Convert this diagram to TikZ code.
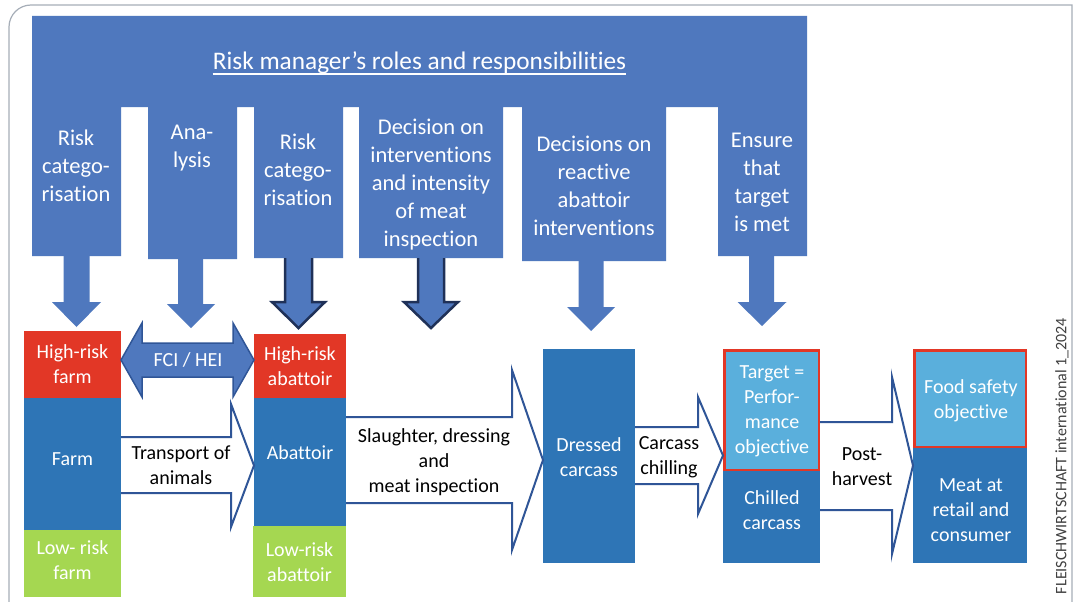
\documentclass[tikz,border=0pt]{standalone}
\usepackage{fontspec}
\setmainfont{Carlito}[RawFeature={-liga;-clig;-calt;-dlig;-rlig}]
\definecolor{bannerblue}{HTML}{4F78BE}
\definecolor{boxblue}{HTML}{2E75B6}
\definecolor{riskred}{HTML}{E23726}
\definecolor{riskgreen}{HTML}{A5D751}
\definecolor{lightblue}{HTML}{5AAFDC}
\definecolor{arrowline}{HTML}{2F5597}
\definecolor{darkline}{HTML}{1F3158}
\definecolor{framegray}{HTML}{A6AEB8}
\definecolor{textgray}{HTML}{404040}
\begin{document}
\begin{tikzpicture}[x=1pt,y=-1pt,
  cell/.style={inner sep=0pt, outer sep=0pt, anchor=north west, draw=none},
  coltext/.style={text=white, align=center, inner sep=0pt, font=\fontsize{22.5}{28}\selectfont},
  boxtext/.style={text=white, align=center, inner sep=0pt, font=\fontsize{20}{25}\selectfont},
  arrtext/.style={text=black, align=center, inner sep=0pt, font=\fontsize{20}{25}\selectfont},
  whitearrow/.style={fill=white, draw=arrowline, line width=2pt, line join=miter},
  dnfill/.style={fill=bannerblue, draw=none},
  dnline/.style={draw=darkline, line width=2.5pt, line join=miter},
  redframe/.style={draw=riskred, line width=2.5pt}]
\useasboundingbox (0,0) rectangle (1076,602);
\fill[white] (0,0) rectangle (1076,602);
% frame
\draw[framegray, line width=1.2pt] (9,602) -- (9,27) arc[start angle=180, end angle=270, radius=22] -- (1072,5) -- (1072,602);
% banner
\fill[bannerblue] (32,16) -- (807,16) -- (807,256) -- (718,256) -- (718,107) -- (666,107) -- (666,261)
  -- (522,261) -- (522,107) -- (503,107) -- (503,258) -- (359,258) -- (359,107) -- (343,107)
  -- (343,258) -- (254,258) -- (254,107) -- (237,107) -- (237,259) -- (148,259) -- (148,107)
  -- (121,107) -- (121,256) -- (32,256) -- cycle;
\node[text=white, inner sep=0pt, anchor=base, font=\fontsize{25.3}{30}\selectfont] (title) at (419.5,70) {Risk manager’s roles and responsibilities};
\draw[white, line width=1.4pt] ([yshift=-4pt]title.base west) -- ([yshift=-4pt]title.base east);
% column texts
\node[coltext] (c1) at (76,165.5) {Risk\\catego-\\risation};
\node[coltext] (c2) at (192,148.5) {Ana-\\lysis};
\node[coltext] (c3) at (298,169.5) {Risk\\catego-\\risation};
\node[coltext] (c4) at (431,184.5) {Decision on\\interventions\\and intensity\\of meat\\inspection};
\node[coltext] (c5) at (594,185.5) {Decisions on\\reactive\\abattoir\\interventions};
\node[coltext] (c6) at (762,182.5) {Ensure\\that\\target\\is met};
% down arrows
\path[dnfill] (63.5,254) -- (63.5,302) -- (52,302) -- (76.5,327) -- (101,302) -- (89.5,302) -- (89.5,254) -- cycle;
\path[dnfill] (178,257) -- (178,304) -- (167,304) -- (191,328) -- (215,304) -- (203,304) -- (203,257) -- cycle;
\path[dnfill] (285,256) -- (285,302) -- (272,302) -- (298.5,328) -- (325,302) -- (312,302) -- (312,256) -- cycle;
\draw[dnline] (285,258) -- (285,302) -- (272,302) -- (298.5,328) -- (325,302) -- (312,302) -- (312,258);
\path[dnfill] (418,256) -- (418,302) -- (404,302) -- (431,328) -- (458,302) -- (444,302) -- (444,256) -- cycle;
\draw[dnline] (418,258) -- (418,302) -- (404,302) -- (431,328) -- (458,302) -- (444,302) -- (444,258);
\path[dnfill] (578.5,259) -- (578.5,307) -- (567,307) -- (591,331) -- (615,307) -- (603.5,307) -- (603.5,259) -- cycle;
\path[dnfill] (749,254) -- (749,302) -- (737.5,302) -- (762,326) -- (786.5,302) -- (774,302) -- (774,254) -- cycle;
% boxes
\node[cell, fill=riskred, minimum width=97, minimum height=67] (hrfarm) at (24,331) {};
\node[cell, fill=boxblue, minimum width=97, minimum height=132] (farm) at (24,398) {};
\node[cell, fill=riskgreen, minimum width=97, minimum height=67] (lrfarm) at (24,530) {};
\node[cell, fill=riskred, minimum width=92, minimum height=64] (hrabat) at (254,334) {};
\node[cell, fill=boxblue, minimum width=92, minimum height=128] (abat) at (254,398) {};
\node[cell, fill=riskgreen, minimum width=93, minimum height=71] (lrabat) at (253,526) {};
\node[cell, fill=boxblue, minimum width=92, minimum height=214] (dressed) at (543,349) {};
\node[cell, fill=boxblue, minimum width=97, minimum height=92] (chilled) at (723,471) {};
\node[cell, fill=lightblue, minimum width=97, minimum height=122] (target) at (723,349) {};
\draw[redframe] ([shift={(1.25,1.25)}]target.north west) rectangle ([shift={(-1.25,-1.25)}]target.south east);
\node[cell, fill=boxblue, minimum width=114, minimum height=115] (meat) at (913,448) {};
\node[cell, fill=lightblue, minimum width=114, minimum height=99] (fso) at (913,349) {};
\draw[redframe] ([shift={(1.25,1.25)}]fso.north west) rectangle ([shift={(-1.25,-1.25)}]fso.south east);
% block arrows between boxes
\draw[whitearrow] (farm.east |- 0,437) -- (231,437) -- (231,404) -- (abat.west |- 0,465.5) -- (231,527) -- (231,493) -- (farm.east |- 0,493);
\draw[whitearrow] (abat.east |- 0,417) -- (512,417) -- (512,370) -- (dressed.west |- 0,460) -- (512,550) -- (512,503) -- (abat.east |- 0,503);
\draw[whitearrow] (dressed.east |- 0,427) -- (698,427) -- (698,397) -- (target.west |- 0,455.5) -- (698,514) -- (698,484) -- (dressed.east |- 0,484);
\draw[whitearrow] (target.east |- 0,422) -- (892,422) -- (892,377) -- (fso.west |- 0,465.5) -- (892,554) -- (892,510) -- (target.east |- 0,510);
% FCI / HEI double arrow
\draw[fill=bannerblue, draw=arrowline, line width=1.5pt, line join=miter]
  (hrfarm.east |- 0,360) -- (142,323) -- (142,343) -- (233,343) -- (233,323) -- (hrabat.west |- 0,360)
  -- (233,397) -- (233,377) -- (142,377) -- (142,397) -- cycle;
\node[boxtext] (fci) at (188,360) {FCI / HEI};
% box texts
\node[boxtext] (t1) at (72.5,364.5) {High-risk\\farm};
\node[boxtext] (t2) at (72.5,459) {Farm};
\node[boxtext] (t3) at (72.5,560.5) {Low- risk\\farm};
\node[boxtext] (t4) at (300,366.5) {High-risk\\abattoir};
\node[boxtext] (t5) at (300,453) {Abattoir};
\node[boxtext] (t6) at (299.5,562.5) {Low-risk\\abattoir};
\node[boxtext] (t7) at (589,457) {Dressed\\carcass};
\node[boxtext] (t8) at (772,411.5) {Target =\\Perfor-\\mance\\objective};
\node[boxtext] (t9) at (772,510.5) {Chilled\\carcass};
\node[boxtext] (t10) at (971,400.5) {Food safety\\objective};
\node[boxtext] (t11) at (971,510) {Meat at\\retail and\\consumer};
% arrow texts
\node[arrtext] (a1) at (181,465.5) {Transport of\\animals};
\node[arrtext] (a2) at (434,462) {Slaughter, dressing\\and\\meat inspection};
\node[arrtext] (a3) at (669,457) {Carcass\\chilling};
\node[arrtext] (a4) at (862,466.5) {Post-\\harvest};
% credit
\node[rotate=90, inner sep=0pt, text=textgray, font=\fontsize{16}{18}\selectfont] (credit) at (1062,456) {FLEISCHWIRTSCHAFT international 1\_2024};
\end{tikzpicture}
\end{document}
